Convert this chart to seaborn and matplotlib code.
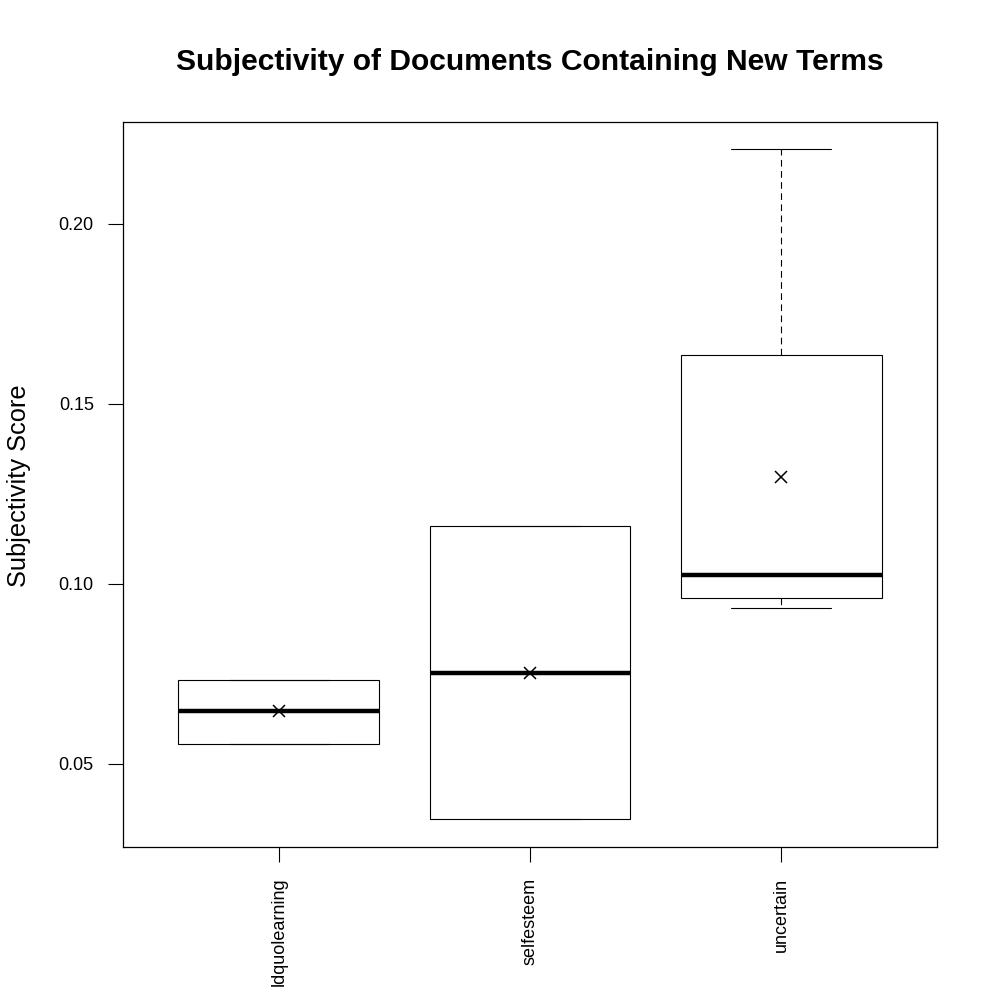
import numpy as np
import pandas as pd
import seaborn as sns
import matplotlib
matplotlib.use("Agg")
import matplotlib.pyplot as plt

# Values (five-number summary per term, plus mean)
terms = ["ldquolearning", "selfesteem", "uncertain"]
lows = [0.0556, 0.0347, 0.0933]
q1s = [0.0556, 0.0347, 0.0961]
medians = [0.0647, 0.0753, 0.1025]
q3s = [0.0733, 0.1161, 0.1636]
highs = [0.0733, 0.1161, 0.2208]
means = [0.0647, 0.0753, 0.1297]

# long table: five summary values per group give back the same box
rows = []
for t, a, b, c, d, e in zip(terms, lows, q1s, medians, q3s, highs):
    for v in (a, b, c, d, e):
        rows.append({"term": t, "score": v})
df = pd.DataFrame(rows)
df_mean = pd.DataFrame({"term": terms, "score": means})

sns.set_style("white")
plt.rcParams["font.family"] = ["Liberation Sans", "DejaVu Sans"]
plt.rcParams["text.color"] = "black"

fig = plt.figure(figsize=(10, 10), dpi=100)
ax = fig.add_axes([0.123, 0.153, 0.814, 0.725])

sns.boxplot(data=df, x="term", y="score", order=terms, ax=ax,
            color="white", linecolor="black", linewidth=0.8, saturation=1,
            width=0.8, whis=np.inf,
            whiskerprops={"linestyle": (0, (6, 4))},
            medianprops={"linewidth": 3.2},
            capprops={"linewidth": 0.8})

sns.pointplot(data=df_mean, x="term", y="score", order=terms, ax=ax,
              linestyle="none", marker="x", color="black", errorbar=None,
              markersize=9, markeredgewidth=1.1)

ax.set_xlim(-0.62, 2.62)
ax.set_ylim(0.0269, 0.2283)
ax.set_yticks([0.05, 0.10, 0.15, 0.20])
ax.set_yticklabels(["0.05", "0.10", "0.15", "0.20"])
ax.set_xticks(range(len(terms)))
ax.set_xticklabels(terms, rotation=90)
ax.set_xlabel("")
ax.set_ylabel("")
ax.tick_params(axis="both", direction="out", length=11, width=0.8,
               color="black", labelsize=13, pad=10, labelcolor="black",
               bottom=True, left=True)
ax.tick_params(axis="x", pad=11)
for s in ax.spines.values():
    s.set_visible(True)
    s.set_color("black")
    s.set_linewidth(0.9)

fig.text(0.530, 0.938, "Subjectivity of Documents Containing New Terms",
         ha="center", va="center", fontsize=21.6, fontweight="bold",
         color="black")
fig.text(0.019, 0.514, "Subjectivity Score", ha="center", va="center",
         rotation=90, fontsize=18.3, color="black")

fig.savefig("out.png", dpi=100)
